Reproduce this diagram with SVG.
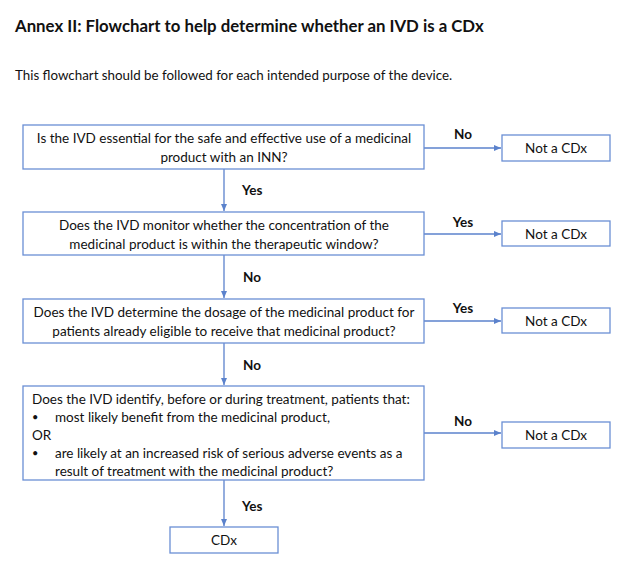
<svg xmlns="http://www.w3.org/2000/svg" width="635" height="581" viewBox="0 0 635 581">
<style>
text{font-family:Lato,"Liberation Sans",sans-serif;fill:#111}
.t{font-size:13.5px}
.b{font-size:11px}
.h{font-size:16.8px;font-weight:bold}
.s{font-size:13.35px}
.l{font-size:13.5px;font-weight:bold}
.c{text-anchor:middle}
rect{fill:#fff;stroke:#6a8fd4;stroke-width:1.3}
.e path{stroke:#5b82cc;stroke-width:1.3;fill:none}
</style>
<defs>
<marker id="a" markerWidth="8" markerHeight="8" refX="7" refY="4" orient="auto" markerUnits="userSpaceOnUse">
<path d="M0,1 L7,4 L0,7 Z" fill="#5b82cc"/>
</marker>
</defs>
<rect x="0" y="0" width="635" height="581" style="fill:#fff;stroke:none"/>
<text class="h" x="15" y="32">Annex II: Flowchart to help determine whether an IVD is a CDx</text>
<text class="s" x="15" y="80">This flowchart should be followed for each intended purpose of the device.</text>
<g class="e" id="connectors">
<path d="M224,169 V211" marker-end="url(#a)"/>
<path d="M224,255 V298" marker-end="url(#a)"/>
<path d="M224,343 V385" marker-end="url(#a)"/>
<path d="M224,480 V526" marker-end="url(#a)"/>
<path d="M424,148 H501" marker-end="url(#a)"/>
<path d="M424,234 H501" marker-end="url(#a)"/>
<path d="M424,321 H501" marker-end="url(#a)"/>
<path d="M424,433 H501" marker-end="url(#a)"/>
<text class="l" x="242" y="195">Yes</text>
<text class="l" x="243" y="282">No</text>
<text class="l" x="243" y="370">No</text>
<text class="l" x="242" y="511">Yes</text>
<text class="l c" x="463" y="139">No</text>
<text class="l c" x="463" y="227">Yes</text>
<text class="l c" x="463" y="313">Yes</text>
<text class="l c" x="463" y="426">No</text>
</g>
<g id="q1">
<rect x="23" y="125" width="401" height="44"/>
<text class="t c" x="224" y="143">Is the IVD essential for the safe and effective use of a medicinal</text>
<text class="t c" x="224" y="162">product with an INN?</text>
</g>
<g id="q2">
<rect x="23" y="212" width="401" height="43"/>
<text class="t c" x="224" y="230">Does the IVD monitor whether the concentration of the</text>
<text class="t c" x="224" y="249">medicinal product is within the therapeutic window?</text>
</g>
<g id="q3">
<rect x="23" y="299" width="401" height="44"/>
<text class="t c" x="224" y="317">Does the IVD determine the dosage of the medicinal product for</text>
<text class="t c" x="224" y="336">patients already eligible to receive that medicinal product?</text>
</g>
<g id="q4">
<rect x="23" y="386" width="401" height="94"/>
<text class="t" x="32" y="404">Does the IVD identify, before or during treatment, patients that:</text>
<text class="b" x="32" y="421">•</text>
<text class="t" x="55" y="422">most likely benefit from the medicinal product,</text>
<text class="t" x="32" y="440">OR</text>
<text class="b" x="32" y="457">•</text>
<text class="t" x="55" y="458">are likely at an increased risk of serious adverse events as a</text>
<text class="t" x="55" y="476">result of treatment with the medicinal product?</text>
</g>
<g id="n1">
<rect x="502" y="135" width="108" height="26"/>
<text class="t c" x="556" y="153">Not a CDx</text>
</g>
<g id="n2">
<rect x="502" y="221" width="108" height="25"/>
<text class="t c" x="556" y="239">Not a CDx</text>
</g>
<g id="n3">
<rect x="502" y="308" width="108" height="25"/>
<text class="t c" x="556" y="326">Not a CDx</text>
</g>
<g id="n4">
<rect x="502" y="422" width="108" height="26"/>
<text class="t c" x="556" y="440">Not a CDx</text>
</g>
<g id="cdx">
<rect x="170" y="527" width="108" height="26"/>
<text class="t c" x="224" y="545">CDx</text>
</g>
</svg>
